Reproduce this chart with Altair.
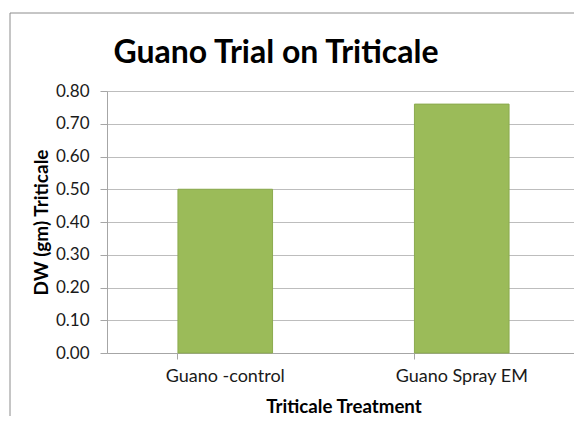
import altair as alt
import pandas as pd

categories = ["Guano -control", "Guano Spray EM"]
values = [0.50, 0.76]
chart_title = "Guano Trial on Triticale"

df = pd.DataFrame({"treatment": categories, "dw": values})
title_df = pd.DataFrame({"t": [chart_title]})

W, H = 473, 262
FONT = "Lato"

frame = alt.Chart(pd.DataFrame({"k": [0]})).mark_rect(
    fill=None, stroke="#8C8C8C", strokeWidth=1, clip=False
).encode(
    x=alt.value(-97), x2=alt.value(W + 60), y=alt.value(-78), y2=alt.value(H + 120)
)

title = alt.Chart(title_df).mark_text(
    font=FONT, fontSize=32, fontWeight="bold", color="#000", align="center", baseline="alphabetic"
).encode(text="t:N", x=alt.value(169), y=alt.value(-28))

bars = alt.Chart(df).mark_bar(color="#9BBB59", stroke="#8BAA4E", strokeWidth=1).encode(
    x=alt.X("treatment:N", sort=categories,
            scale=alt.Scale(paddingInner=0.6, paddingOuter=0.3),
            axis=alt.Axis(title="Triticale Treatment", labelAngle=0, labelFontSize=18,
                          labelFont=FONT, labelColor="#1a1a1a", titleFont=FONT,
                          titleFontSize=18.7, titleFontWeight="bold", titleColor="#000",
                          bandPosition=0, tickSize=6, tickColor="#A6A6A6",
                          domainColor="#A6A6A6", grid=False, labelPadding=8,
                          titlePadding=12)),
    y=alt.Y("dw:Q", scale=alt.Scale(domain=[0, 0.8], nice=False),
            axis=alt.Axis(title="DW (gm) Triticale", values=[0, 0.1, 0.2, 0.3, 0.4, 0.5, 0.6, 0.7, 0.8],
                          format=".2f", labelFontSize=17, labelFont=FONT,
                          labelColor="#1a1a1a", titleFont=FONT, titleFontSize=19,
                          titleFontWeight="bold", titleColor="#000", tickSize=7,
                          tickColor="#A6A6A6", domainColor="#A6A6A6",
                          gridColor="#BDBDBD", labelPadding=11, titlePadding=4)),
)

chart = alt.layer(bars, frame, title).properties(
    width=W, height=H,
    autosize=alt.AutoSizeParams(type="none"),
    padding={"left": 99, "top": 83, "right": -6, "bottom": 63},
).configure_view(fill="#EEF1E8", stroke=None).configure(background="white")

chart.save("out.html", embed_options={"renderer": "svg", "actions": False})
